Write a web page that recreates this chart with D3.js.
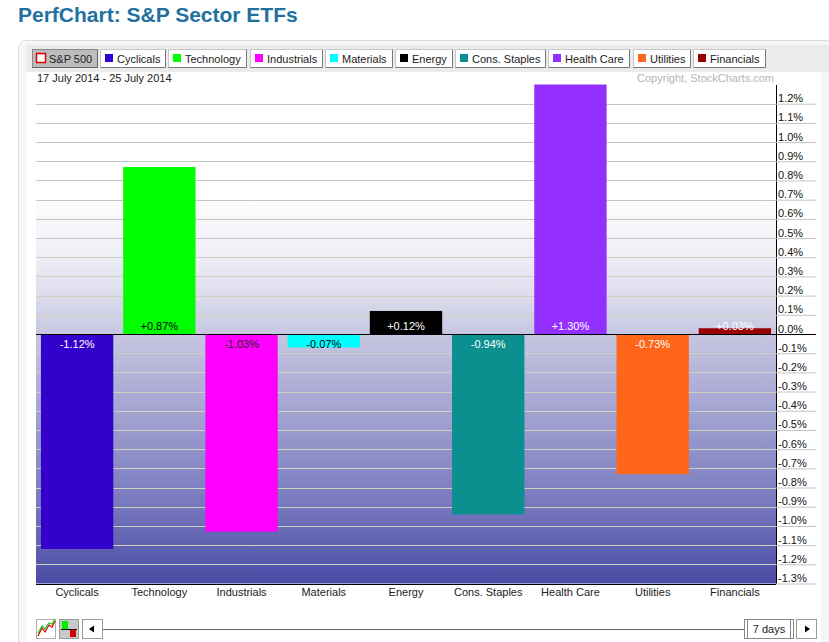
<!DOCTYPE html>
<html lang="en"><head><meta charset="UTF-8">
<title>PerfChart: S&amp;P Sector ETFs</title>
<script src="https://cdn.jsdelivr.net/npm/d3@7"></script>
<style>
  body { margin: 0; background: #fff; }
  svg text { font-family: Arial, "Liberation Sans", sans-serif; }
</style>
</head>
<body>
<script>
// data (% change, 17-25 July 2014)
var sectors = ["Cyclicals", "Technology", "Industrials", "Materials", "Energy",
               "Cons. Staples", "Health Care", "Utilities", "Financials"];
var changes = [-1.12, 0.87, -1.03, -0.07, 0.12, -0.94, 1.30, -0.73, 0.03];
var legendNames = ["S&P 500", "Cyclicals", "Technology", "Industrials", "Materials", "Energy",
                   "Cons. Staples", "Health Care", "Utilities", "Financials"];
var tickValues = [-1.3, -1.2, -1.1, -1.0, -0.9, -0.8, -0.7, -0.6, -0.5, -0.4, -0.3, -0.2, -0.1,
                  0.0, 0.1, 0.2, 0.3, 0.4, 0.5, 0.6, 0.7, 0.8, 0.9, 1.0, 1.1, 1.2];
var dateRange = "17 July 2014 - 25 July 2014";
var periodLabel = "7 days";

// colours
var sectorColors = ["#3300cc", "#00ff00", "#ff00ff", "#00ffff", "#000000",
                    "#0b8f8f", "#9330ff", "#ff6619", "#990000"];
var labelInk = ["#fff", "#000", "#222", "#000", "#fff", "#fff", "#fff", "#fff", "#fff"];

var w = 829, h = 642;
var left = 36, axisX = 776, right = 816;

var svg = d3.select("body").append("svg")
  .attr("width", w).attr("height", h);

var x = d3.scaleBand()
  .domain(sectors)
  .range([left, axisX])
  .paddingInner(0.12)
  .paddingOuter(0.06);

var y = d3.scaleLinear()
  .domain([-1.3, 1.3])
  .range([583.5, 84.5]);

// title
svg.append("text")
  .attr("x", 18).attr("y", 22)
  .style("font-size", "21px").style("font-weight", "bold")
  .attr("fill", "#22709f")
  .text("PerfChart: S&P Sector ETFs");

// panel frame
svg.append("rect")
  .attr("x", 18.5).attr("y", 40.5).attr("width", 830).attr("height", 700)
  .attr("rx", 8).attr("fill", "#f4f5f7").attr("stroke", "#dcdcdc");
svg.append("rect")
  .attr("x", 26).attr("y", 72).attr("width", 795).attr("height", 600)
  .attr("fill", "#fff");
svg.append("rect")
  .attr("x", 26).attr("y", 45).attr("width", 803).attr("height", 27)
  .attr("fill", "#ebebeb");

// legend buttons
var bx = 32;
legendNames.forEach(function(name, i) {
  var g = svg.append("g").attr("transform", "translate(" + Math.round(bx) + ",49)");
  var selected = i === 0;
  var box = g.append("rect")
    .attr("x", 0.5).attr("y", 0.5).attr("height", 18)
    .attr("fill", selected ? "#bcbcbc" : "#fff")
    .attr("stroke", selected ? "#8a8a8a" : "#c8c8c8");
  var t = g.append("text")
    .attr("x", 17).attr("y", 13.5)
    .style("font-size", "11px").attr("fill", "#222")
    .text(name);
  var bw = Math.round(t.node().getComputedTextLength() + 22);
  box.attr("width", bw);
  // darker bottom/right edge
  g.append("path")
    .attr("d", "M" + (bw + 0.5) + ",0.5V18.5H0.5")
    .attr("fill", "none").attr("stroke", selected ? "#666" : "#7a7a7a");
  if (selected) {
    g.append("rect").attr("x", 4.5).attr("y", 4.5).attr("width", 9).attr("height", 9)
      .attr("fill", "#fff").attr("stroke", "#e00000").attr("stroke-width", 1.5);
  } else {
    g.append("rect").attr("x", 5).attr("y", 5).attr("width", 8).attr("height", 8)
      .attr("fill", sectorColors[i - 1]);
  }
  bx += bw + 3.2;
});

// date and copyright
svg.append("text")
  .attr("x", 37).attr("y", 82)
  .style("font-size", "11px").attr("fill", "#222")
  .text(dateRange);
svg.append("text")
  .attr("x", 774).attr("y", 82).attr("text-anchor", "end")
  .style("font-size", "11px").attr("fill", "#b4b4b4")
  .text("Copyright, StockCharts.com");

// plot background gradient
var grad = svg.append("defs").append("linearGradient")
  .attr("id", "bg").attr("gradientUnits", "userSpaceOnUse")
  .attr("x1", 0).attr("x2", 0).attr("y1", y(1.3)).attr("y2", y(-1.3));
[[0, "#ffffff"], [0.22, "#ffffff"], [0.35, "#ededf5"], [0.43, "#dadaeb"],
 [0.5, "#c6c6e1"], [0.63, "#a9a9d4"], [0.83, "#7a7bbf"], [1, "#4a4ca5"]]
  .forEach(function(s) {
    grad.append("stop").attr("offset", s[0]).attr("stop-color", s[1]);
  });

svg.append("rect")
  .attr("x", left).attr("y", y(1.3))
  .attr("width", axisX - left).attr("height", y(-1.3) - y(1.3))
  .attr("fill", "url(#bg)");

// gridlines
svg.append("g").selectAll("line")
  .data(tickValues)
  .enter().append("line")
  .attr("x1", left).attr("x2", axisX)
  .attr("y1", function(d) { return Math.round(y(d)) + 0.5; })
  .attr("y2", function(d) { return Math.round(y(d)) + 0.5; })
  .attr("stroke", function(d) { return d < 0.5 ? "#cfcfc2" : "#c4c4c4"; });

// bars
var zeroY = Math.round(y(0));
svg.append("g").selectAll("rect")
  .data(changes)
  .enter().append("rect")
  .attr("x", function(d, i) { return x(sectors[i]); })
  .attr("width", x.bandwidth())
  .attr("y", function(d) { return d > 0 ? y(d) : zeroY + 1; })
  .attr("height", function(d) { return d > 0 ? zeroY - y(d) : y(d) - zeroY - 1; })
  .attr("fill", function(d, i) { return sectorColors[i]; });

// value labels
svg.append("g").selectAll("text")
  .data(changes)
  .enter().append("text")
  .attr("x", function(d, i) { return x(sectors[i]) + x.bandwidth() / 2; })
  .attr("y", function(d) { return d > 0 ? zeroY - 4 : zeroY + 14; })
  .attr("text-anchor", "middle")
  .style("font-size", "11px")
  .attr("fill", function(d, i) { return labelInk[i]; })
  .text(function(d) { return (d > 0 ? "+" : "") + d.toFixed(2) + "%"; });

// right axis
var axis = svg.append("g")
  .attr("transform", "translate(" + axisX + ",0)")
  .call(d3.axisRight(y)
    .tickValues(tickValues)
    .tickSize(right - axisX)
    .tickSizeOuter(0)
    .tickFormat(function(d) { return d.toFixed(1) + "%"; }));
axis.select(".domain").attr("stroke", "#000");
axis.selectAll(".tick line").attr("stroke", "#c4c4c4");
axis.selectAll(".tick text")
  .attr("x", 2).attr("dy", "-2px")
  .attr("fill", "#111")
  .style("font-size", "11px")
  .style("font-family", "Arial, 'Liberation Sans', sans-serif");

// zero line and base line
svg.append("line")
  .attr("x1", left).attr("x2", right)
  .attr("y1", zeroY + 0.5).attr("y2", zeroY + 0.5)
  .attr("stroke", "#000");
svg.append("line")
  .attr("x1", left).attr("x2", axisX)
  .attr("y1", Math.round(y(-1.3)) + 0.5).attr("y2", Math.round(y(-1.3)) + 0.5)
  .attr("stroke", "#000");

// category labels
svg.append("g").selectAll("text")
  .data(sectors)
  .enter().append("text")
  .attr("x", function(d) { return x(d) + x.bandwidth() / 2; })
  .attr("y", 596)
  .attr("text-anchor", "middle")
  .style("font-size", "11px").attr("fill", "#222")
  .text(function(d) { return d; });

// bottom controls
var ctl = svg.append("g");
// line chart icon
ctl.append("rect").attr("x", 36.5).attr("y", 619.5).attr("width", 19).attr("height", 19)
  .attr("fill", "#fff").attr("stroke", "#b0b0b0");
ctl.append("path").attr("d", "M38,636L42,628L45,632L49,625L52,627L55,621")
  .attr("fill", "none").attr("stroke", "#d00").attr("stroke-width", 1.2);
ctl.append("path").attr("d", "M38,633L42,626L45,629L49,623L52,624L55,619")
  .attr("fill", "none").attr("stroke", "#2c2").attr("stroke-width", 1.2);
// bar icon
ctl.append("rect").attr("x", 59.5).attr("y", 619.5).attr("width", 19).attr("height", 19)
  .attr("fill", "#c8c8c8").attr("stroke", "#999");
ctl.append("rect").attr("x", 62).attr("y", 621).attr("width", 6).attr("height", 8).attr("fill", "#00ee00");
ctl.append("rect").attr("x", 70).attr("y", 630).attr("width", 6).attr("height", 7).attr("fill", "#cc0000");
ctl.append("line").attr("x1", 61).attr("x2", 77).attr("y1", 629.5).attr("y2", 629.5).attr("stroke", "#000");
// arrows and slider
ctl.append("rect").attr("x", 82.5).attr("y", 619.5).attr("width", 20).attr("height", 19)
  .attr("fill", "#fff").attr("stroke", "#999");
ctl.append("path").attr("d", "M89,629L94,625.5V632.5Z").attr("fill", "#000");
ctl.append("line").attr("x1", 103).attr("x2", 744).attr("y1", 629.5).attr("y2", 629.5)
  .attr("stroke", "#666");
ctl.append("rect").attr("x", 744.5).attr("y", 619.5).attr("width", 49).attr("height", 19)
  .attr("fill", "#fff").attr("stroke", "#888");
ctl.append("line").attr("x1", 747.5).attr("x2", 747.5).attr("y1", 620).attr("y2", 638).attr("stroke", "#888");
ctl.append("line").attr("x1", 790.5).attr("x2", 790.5).attr("y1", 620).attr("y2", 638).attr("stroke", "#888");
ctl.append("text").attr("x", 769).attr("y", 633).attr("text-anchor", "middle")
  .style("font-size", "11px").attr("fill", "#222").text(periodLabel);
ctl.append("rect").attr("x", 796.5).attr("y", 619.5).attr("width", 20).attr("height", 19)
  .attr("fill", "#fff").attr("stroke", "#999");
ctl.append("path").attr("d", "M810,629L805,625.5V632.5Z").attr("fill", "#000");
</script>
</body></html>
